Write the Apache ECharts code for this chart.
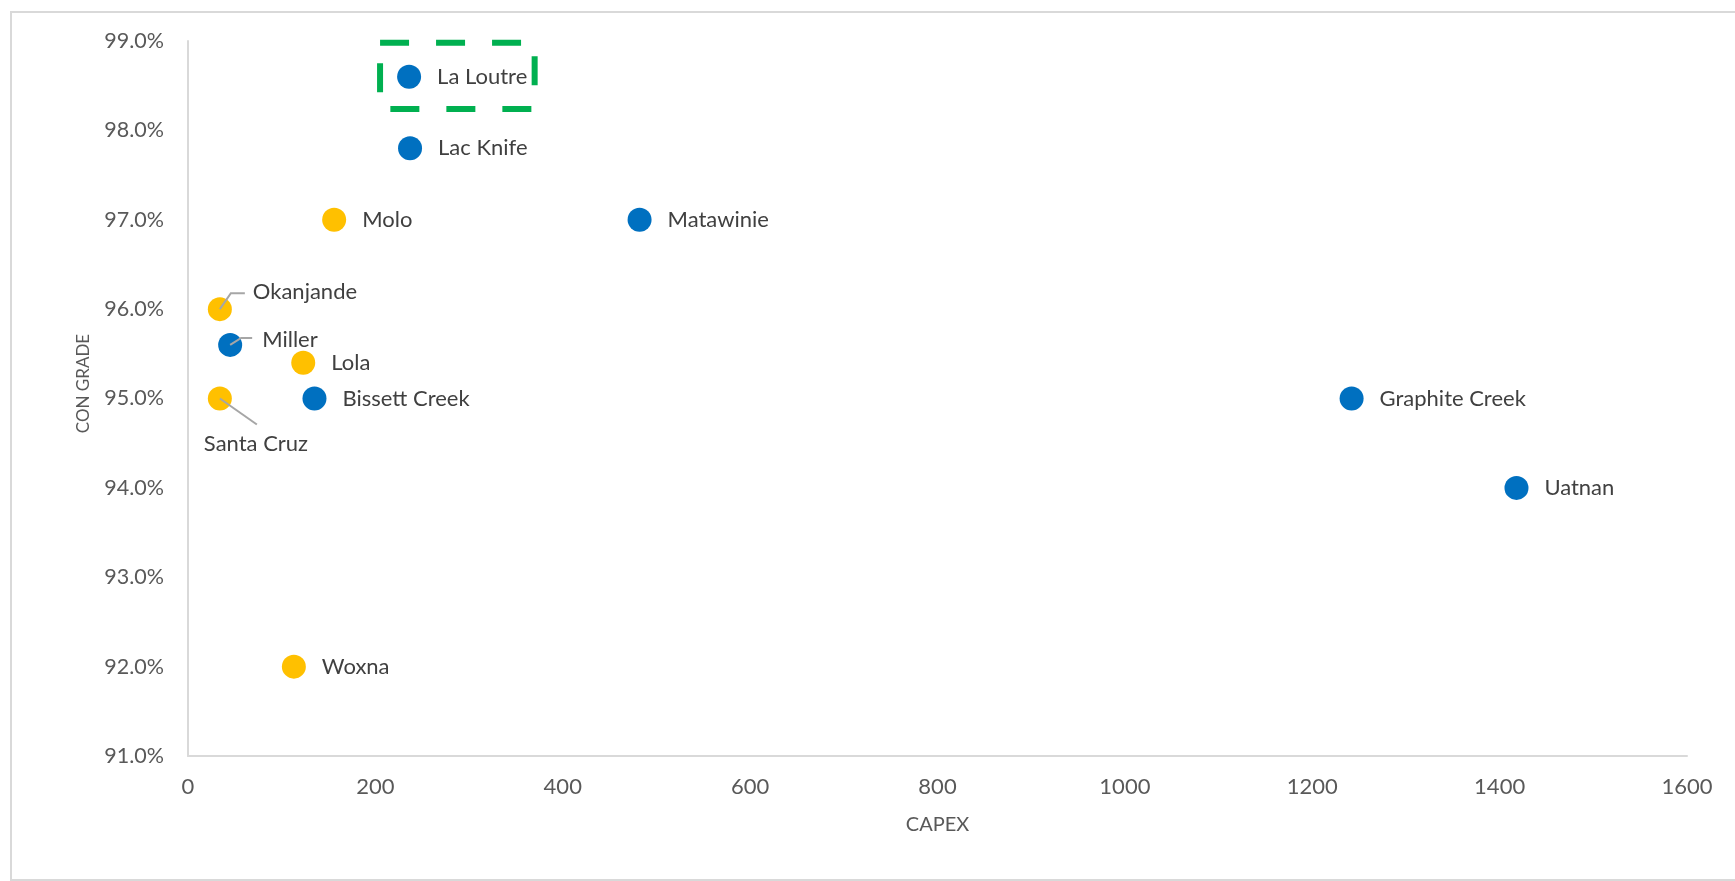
<!DOCTYPE html>
<html>
<head>
<meta charset="utf-8">
<script src="https://cdn.jsdelivr.net/npm/echarts@6/dist/echarts.min.js"></script>
<style>
html,body{margin:0;padding:0;background:#fff;}
#chart{width:1735px;height:881px;}
</style>
</head>
<body>
<div id="chart"></div>
<script>
// ---- data ----
const blueNames  = ['La Loutre','Lac Knife','Matawinie','Miller','Bissett Creek','Graphite Creek','Uatnan'];
const blueCapex  = [236, 237, 482, 45, 135, 1242, 1418];
const blueGrade  = [98.6, 97.8, 97.0, 95.6, 95.0, 95.0, 94.0];

const goldNames  = ['Molo','Okanjande','Lola','Santa Cruz','Woxna'];
const goldCapex  = [156, 34, 123, 34, 113];
const goldGrade  = [97.0, 96.0, 95.4, 95.0, 92.0];

const xTicks = [0, 200, 400, 600, 800, 1000, 1200, 1400, 1600];
const yTicks = [91, 92, 93, 94, 95, 96, 97, 98, 99];
const highlight = {x1: 205, x2: 370, y1: 98.24, y2: 98.98};

// ---- styling: label moves and leader-line shapes (pixel offsets from the point) ----
const labelMoves = {
  'Okanjande':  {dx: 5,   dy: -17, leader: [[0,0],[11,-16],[25,-16]]},
  'Miller':     {dx: 4,   dy: -5,  leader: [[0,0],[11,-7],[22,-7]]},
  'Santa Cruz': {dx: -44, dy: 45,  leader: [[0,0],[37,26]]}
};
const FONT = 'Lato';

function build(names, xs, ys){
  return names.map((n,i)=>({name:n, value:[xs[i], ys[i]]}));
}
const seriesNames = [blueNames, goldNames];

// leader line anchors come from the same data arrays
const leaderData = [];
[[blueNames, blueCapex, blueGrade],[goldNames, goldCapex, goldGrade]].forEach(([ns, xs, ys])=>{
  ns.forEach((n,i)=>{ if (labelMoves[n]) leaderData.push({name:n, value:[xs[i], ys[i]]}); });
});

const chart = echarts.init(document.getElementById('chart'));
const labelCommon = {
  show:true, position:'right', distance:16,
  formatter: p => p.name, color:'#404040', fontSize:22, fontFamily:FONT
};
const layoutFn = (params) => {
  if (params.seriesIndex > 1) return {};
  const n = seriesNames[params.seriesIndex][params.dataIndex];
  const m = labelMoves[n];
  return m ? {dx:m.dx, dy:m.dy} : {};
};
chart.setOption({
  animation:false,
  backgroundColor:'#fff',
  graphic:[{type:'rect', shape:{x:11, y:12, width:1760, height:868},
    style:{fill:'none', stroke:'#D9D9D9', lineWidth:2}, silent:true, z:-10}],
  grid:{left:188, right:48, top:41, bottom:125},
  xAxis:{
    type:'value', min:xTicks[0], max:xTicks[xTicks.length-1], interval:200,
    name:'CAPEX', nameLocation:'middle', nameGap:59,
    nameTextStyle:{color:'#595959', fontSize:20, fontFamily:FONT},
    axisLine:{show:true, lineStyle:{color:'#D9D9D9', width:2}},
    axisTick:{show:false}, splitLine:{show:false},
    axisLabel:{color:'#595959', fontSize:22, fontFamily:FONT, margin:20,
      formatter: v => String(v)}
  },
  yAxis:{
    type:'value', min:yTicks[0], max:yTicks[yTicks.length-1], interval:1,
    name:'CON GRADE', nameLocation:'middle', nameGap:96,
    nameTextStyle:{color:'#595959', fontSize:17, fontFamily:FONT, padding:[0,0,0,30]},
    axisLine:{show:true, lineStyle:{color:'#D9D9D9', width:2}},
    axisTick:{show:false}, splitLine:{show:false},
    axisLabel:{color:'#595959', fontSize:21.5, fontFamily:FONT, margin:24,
      formatter: v => v.toFixed(1)+'%'}
  },
  series:[
    {type:'scatter', name:'blue', symbolSize:24,
     itemStyle:{color:'#0070C0', opacity:1},
     label:labelCommon,
     labelLayout:layoutFn,
     data:build(blueNames, blueCapex, blueGrade),
     markArea:{silent:true,
       itemStyle:{color:'rgba(0,0,0,0)', borderColor:'#00B050', borderWidth:6, borderType:[29,27]},
       data:[[{coord:[highlight.x1, highlight.y2]},{coord:[highlight.x2, highlight.y1]}]]}
    },
    {type:'scatter', name:'gold', symbolSize:24,
     itemStyle:{color:'#FFC000', opacity:1},
     label:labelCommon,
     labelLayout:layoutFn,
     data:build(goldNames, goldCapex, goldGrade)
    },
    {type:'custom', name:'leaders', z:5, silent:true,
     data:leaderData,
     renderItem:(params, api)=>{
       const p = api.coord([api.value(0), api.value(1)]);
       const m = labelMoves[leaderData[params.dataIndex].name];
       return {type:'polyline',
         shape:{points: m.leader.map(o=>[p[0]+o[0], p[1]+o[1]])},
         style:{stroke:'#A6A6A6', lineWidth:2, fill:null}};
     }
    }
  ]
});
</script>
</body>
</html>
